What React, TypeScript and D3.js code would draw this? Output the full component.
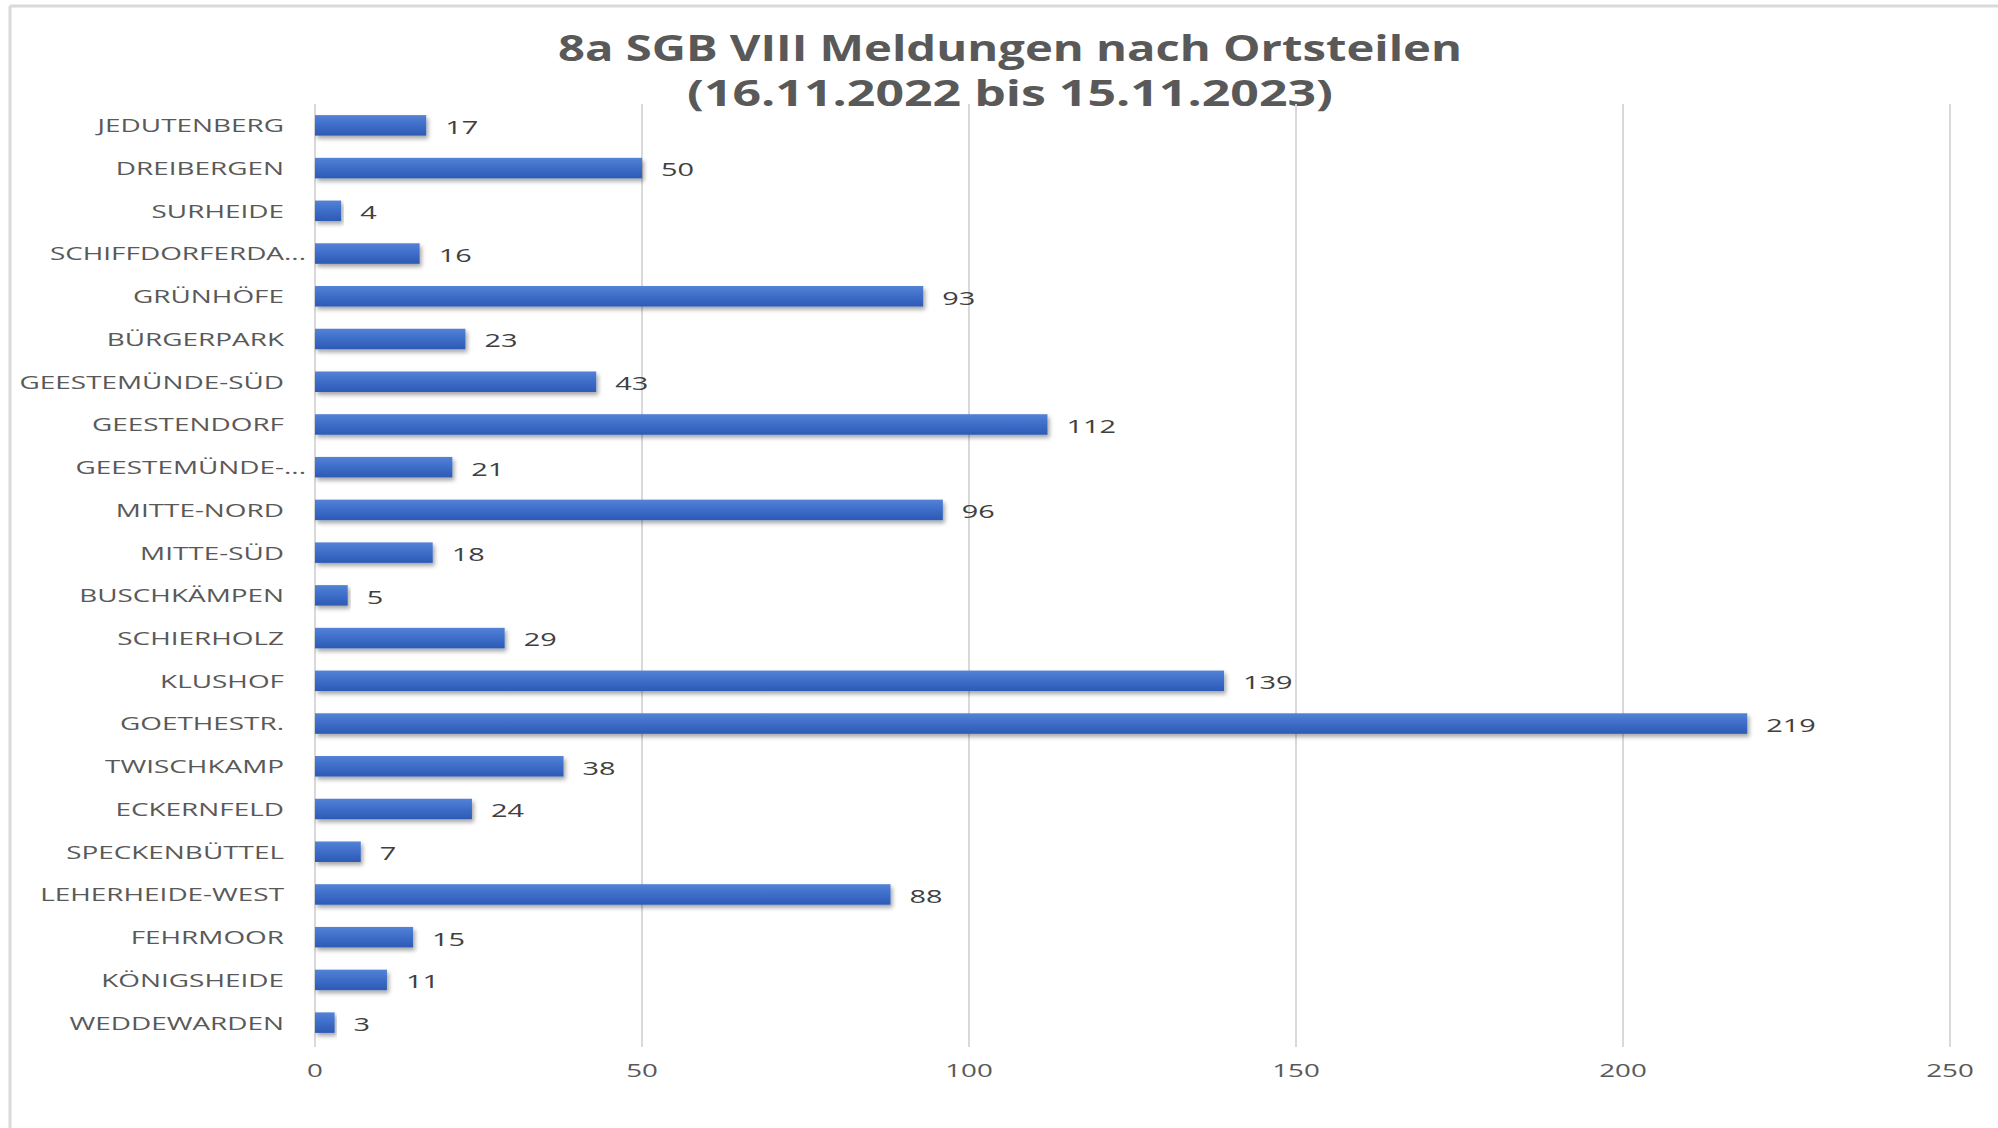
import React from 'react';
import * as d3 from 'd3';

const categories = [
  'JEDUTENBERG', 'DREIBERGEN', 'SURHEIDE', 'SCHIFFDORFERDA...', 'GRÜNHÖFE', 'BÜRGERPARK',
  'GEESTEMÜNDE-SÜD', 'GEESTENDORF', 'GEESTEMÜNDE-...', 'MITTE-NORD', 'MITTE-SÜD', 'BUSCHKÄMPEN',
  'SCHIERHOLZ', 'KLUSHOF', 'GOETHESTR.', 'TWISCHKAMP', 'ECKERNFELD', 'SPECKENBÜTTEL',
  'LEHERHEIDE-WEST', 'FEHRMOOR', 'KÖNIGSHEIDE', 'WEDDEWARDEN',
];
const values = [17, 50, 4, 16, 93, 23, 43, 112, 21, 96, 18, 5, 29, 139, 219, 38, 24, 7, 88, 15, 11, 3];
const xTicks = [0, 50, 100, 150, 200, 250];
const titleLines = ['8a SGB VIII Meldungen nach Ortsteilen', '(16.11.2022 bis 15.11.2023)'];

const W = 1998;
const H = 1128;
const FONT = "'Open Sans', 'DejaVu Sans', sans-serif";
// the source picture is stretched sideways, so text gets a horizontal scale
const SX_CAT = 1.55;
const SX_VAL = 1.52;
const SX_TICK = 1.46;

export default function App() {
  const x = d3.scaleLinear().domain([0, 250]).range([315, 1950]);
  const y = d3.scaleBand<string>()
    .domain(categories)
    .range([104, 1044])
    .paddingInner(0.52)
    .paddingOuter(0.26);
  const bw = y.bandwidth();

  return (
    <svg width={W} height={H} style={{ position: 'absolute', left: 0, top: 0, background: '#fff' }}>
      <defs>
        <linearGradient id="barGrad" x1="0" y1="0" x2="0" y2="1">
          <stop offset="0%" stopColor="#5482d6" />
          <stop offset="45%" stopColor="#3f6fca" />
          <stop offset="100%" stopColor="#2c5ab4" />
        </linearGradient>
        <filter id="shadow" x="-5%" y="-40%" width="115%" height="190%">
          <feDropShadow dx="2" dy="3" stdDeviation="2" floodColor="#000" floodOpacity="0.35" />
        </filter>
      </defs>

      {/* frame */}
      <line x1={10} x2={W} y1={6} y2={6} stroke="#d9d9d9" strokeWidth={3} />
      <line x1={10} x2={10} y1={6} y2={H} stroke="#d9d9d9" strokeWidth={3} />

      {/* title */}
      {titleLines.map((t, i) => (
        <text
          key={t}
          x={1010}
          y={61 + i * 45}
          textAnchor="middle"
          fontFamily={FONT}
          fontWeight={700}
          fontSize={36}
          fill="#595959"
          textLength={i === 0 ? 904 : 646}
          lengthAdjust="spacingAndGlyphs"
        >
          {t}
        </text>
      ))}

      {/* gridlines */}
      {xTicks.map(t => (
        <line key={t} x1={x(t)} x2={x(t)} y1={104} y2={1047} stroke="#d9d9d9" strokeWidth={2} />
      ))}

      {/* x tick labels */}
      {xTicks.map(t => (
        <text
          key={'t' + t}
          transform={`translate(${x(t)},${1077}) scale(${SX_TICK},1)`}
          textAnchor="middle"
          fontFamily={FONT}
          fontSize={19}
          fill="#595959"
        >
          {t}
        </text>
      ))}

      {/* bars */}
      {categories.map((c, i) => (
        <rect
          key={c}
          x={x(0)}
          y={y(c)}
          width={x(values[i]) - x(0)}
          height={bw}
          fill="url(#barGrad)"
          filter="url(#shadow)"
        />
      ))}

      {/* category labels (truncated ones spill a little past the others) */}
      {categories.map(c => (
        <text
          key={'c' + c}
          transform={`translate(${c.endsWith('...') ? 306 : 284},${(y(c) ?? 0) + bw / 2}) scale(${SX_CAT},1)`}
          textAnchor="end"
          dominantBaseline="central"
          fontFamily={FONT}
          fontSize={18}
          fill="#595959"
        >
          {c}
        </text>
      ))}

      {/* value labels */}
      {categories.map((c, i) => (
        <text
          key={'v' + c}
          transform={`translate(${x(values[i]) + 19},${(y(c) ?? 0) + bw / 2 + 1}) scale(${SX_VAL},1)`}
          dominantBaseline="central"
          fontFamily={FONT}
          fontSize={19}
          fill="#404040"
        >
          {values[i]}
        </text>
      ))}
    </svg>
  );
}
